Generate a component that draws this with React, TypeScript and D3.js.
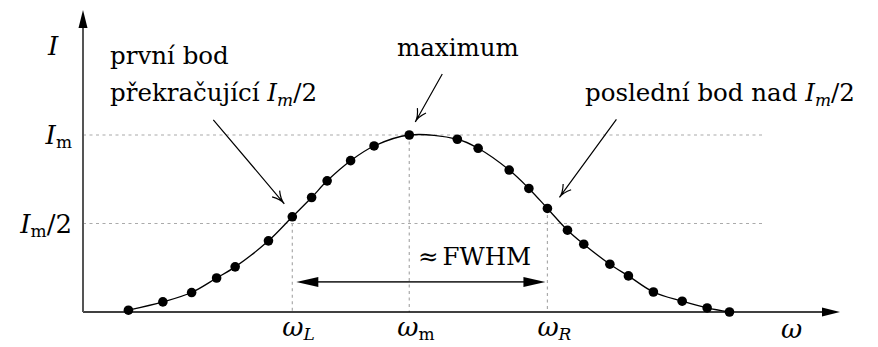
import React from "react";
import * as d3 from "d3";

// Measured intensity samples: angular frequency ω and normalised intensity I/I_m
const omega = [
  1.2, 2.11, 2.87, 3.53, 4.02, 4.9, 5.53, 6.04, 6.45, 7.07, 7.69, 8.62, 9.89,
  10.44, 11.26, 11.78, 12.27, 12.8, 13.23, 13.92, 14.41, 15.07, 15.83, 16.49, 17.08,
];
const intensity = [
  0.01, 0.057, 0.11, 0.192, 0.255, 0.402, 0.538, 0.647, 0.741, 0.855, 0.938, 1.0,
  0.976, 0.925, 0.802, 0.698, 0.585, 0.462, 0.383, 0.27, 0.204, 0.113, 0.061, 0.023, 0.0,
];

// Indices of the marked samples
const iLeft = 6; // first sample above I_m/2
const iMax = 11; // maximum
const iRight = 16; // last sample above I_m/2

const levels = [1, 0.5];
const guideEnd = 17.94;
const fwhmLevel = 0.17;

const W = 878;
const H = 347;
const FONT = "DejaVu Serif, serif";

const x = d3.scaleLinear().domain([0, 20]).range([83, 840]);
const y = d3.scaleLinear().domain([0, 1]).range([312, 135]);

const pts: [number, number][] = omega.map((w, i) => [w, intensity[i]]);

const line = d3
  .line<[number, number]>()
  .x((d) => x(d[0]))
  .y((d) => y(d[1]))
  .curve(d3.curveCatmullRom.alpha(0.5));

function openArrow(x1: number, y1: number, x2: number, y2: number) {
  const a = Math.atan2(y2 - y1, x2 - x1);
  const len = 14;
  const sp = 0.36;
  const b1x = x2 - len * Math.cos(a - sp);
  const b1y = y2 - len * Math.sin(a - sp);
  const b2x = x2 - len * Math.cos(a + sp);
  const b2y = y2 - len * Math.sin(a + sp);
  const cx = x2 - 6 * Math.cos(a);
  const cy = y2 - 6 * Math.sin(a);
  return `M${x1},${y1}L${x2},${y2}M${b1x},${b1y}Q${cx},${cy} ${x2},${y2}M${b2x},${b2y}Q${cx},${cy} ${x2},${y2}`;
}

function Pointer({ i, dx1, dy1, dx2, dy2 }: { i: number; dx1: number; dy1: number; dx2: number; dy2: number }) {
  const px = x(omega[i]);
  const py = y(intensity[i]);
  return (
    <path
      d={openArrow(px + dx1, py + dy1, px + dx2, py + dy2)}
      fill="none"
      stroke="#000"
      strokeWidth={1.2}
    />
  );
}

export default function App() {
  const xL = x(omega[iLeft]);
  const xM = x(omega[iMax]);
  const xR = x(omega[iRight]);
  const yF = y(fwhmLevel);
  const x0 = x(0);
  const y0 = y(0);
  const fs = 24.5;
  const sub = 17;
  const lfs = 26;

  return (
    <svg
      width={W}
      height={H}
      style={{ position: "absolute", left: 0, top: 0, background: "#fff", fontFamily: FONT }}
    >
      {/* horizontal guide lines */}
      {levels.map((l) => (
        <line key={l} x1={x0} x2={x(guideEnd)} y1={y(l)} y2={y(l)} stroke="#aaa" strokeWidth={1.2} strokeDasharray="3,3.5" />
      ))}
      {/* vertical guide lines */}
      {[iLeft, iMax, iRight].map((i) => (
        <line key={i} x1={x(omega[i])} x2={x(omega[i])} y1={y(intensity[i])} y2={y0} stroke="#aaa" strokeWidth={1.2} strokeDasharray="3,3.5" />
      ))}

      {/* axes */}
      <line x1={x0} x2={x(20) - 16} y1={y0} y2={y0} stroke="#000" strokeWidth={1.6} />
      <path d={`M${x(20)},${y0}L${x(20) - 18},${y0 - 4.5}L${x(20) - 18},${y0 + 4.5}Z`} fill="#000" />
      <line x1={x0} x2={x0} y1={y0} y2={26} stroke="#555" strokeWidth={2} />
      <path d={`M${x0},10L${x0 - 4.5},28L${x0 + 4.5},28Z`} fill="#000" />

      {/* fitted curve and samples */}
      <path d={line(pts) ?? ""} fill="none" stroke="#000" strokeWidth={1.3} />
      {pts.map((d, i) => (
        <circle key={i} cx={x(d[0])} cy={y(d[1])} r={4.8} fill="#000" />
      ))}

      {/* FWHM double arrow */}
      <line x1={xL + 24} x2={xR - 22} y1={yF} y2={yF} stroke="#333" strokeWidth={1.8} />
      <path d={`M${xL + 4},${yF}L${xL + 26},${yF - 5}L${xL + 26},${yF + 5}Z`} fill="#000" />
      <path d={`M${xR - 2},${yF}L${xR - 24},${yF - 5}L${xR - 24},${yF + 5}Z`} fill="#000" />
      <text x={418} y={265} fontSize={fs}>
        <tspan>≈</tspan>
        <tspan dx={4}>FWHM</tspan>
      </text>

      {/* pointers */}
      <Pointer i={iLeft} dx1={-79} dy1={-97} dx2={-8} dy2={-13} />
      <Pointer i={iMax} dx1={33} dy1={-61} dx2={6} dy2={-13} />
      <Pointer i={iRight} dx1={69} dy1={-89} dx2={12} dy2={-11} />

      {/* annotation texts */}
      <text x={110} y={64} fontSize={fs}>první bod</text>
      <text x={110} y={101} fontSize={fs}>
        <tspan>překračující </tspan>
        <tspan fontStyle="italic">I</tspan>
        <tspan fontStyle="italic" fontSize={sub} dy={5}>m</tspan>
        <tspan dy={-5}>/2</tspan>
      </text>
      <text x={397} y={56} fontSize={fs}>maximum</text>
      <text x={585} y={101} fontSize={fs}>
        <tspan>poslední bod nad </tspan>
        <tspan fontStyle="italic">I</tspan>
        <tspan fontStyle="italic" fontSize={sub} dy={5}>m</tspan>
        <tspan dy={-5}>/2</tspan>
      </text>

      {/* axis labels */}
      <text x={48} y={55} fontSize={lfs} fontStyle="italic">I</text>
      <text x={72} y={y(1) + 9} fontSize={lfs} textAnchor="end">
        <tspan fontStyle="italic">I</tspan>
        <tspan fontSize={sub} dy={4}>m</tspan>
      </text>
      <text x={72} y={y(0.5) + 9} fontSize={lfs} textAnchor="end">
        <tspan fontStyle="italic">I</tspan>
        <tspan fontSize={sub} dy={4}>m</tspan>
        <tspan dy={-4}>/2</tspan>
      </text>
      <text x={xL - 10} y={336} fontSize={lfs}>
        <tspan fontStyle="italic">ω</tspan>
        <tspan fontStyle="italic" fontSize={sub} dy={4}>L</tspan>
      </text>
      <text x={xM - 12} y={336} fontSize={lfs}>
        <tspan fontStyle="italic">ω</tspan>
        <tspan fontSize={sub} dy={4}>m</tspan>
      </text>
      <text x={xR - 10} y={336} fontSize={lfs}>
        <tspan fontStyle="italic">ω</tspan>
        <tspan fontStyle="italic" fontSize={sub} dy={4}>R</tspan>
      </text>
      <text x={781} y={338} fontSize={lfs} fontStyle="italic">ω</text>
    </svg>
  );
}
